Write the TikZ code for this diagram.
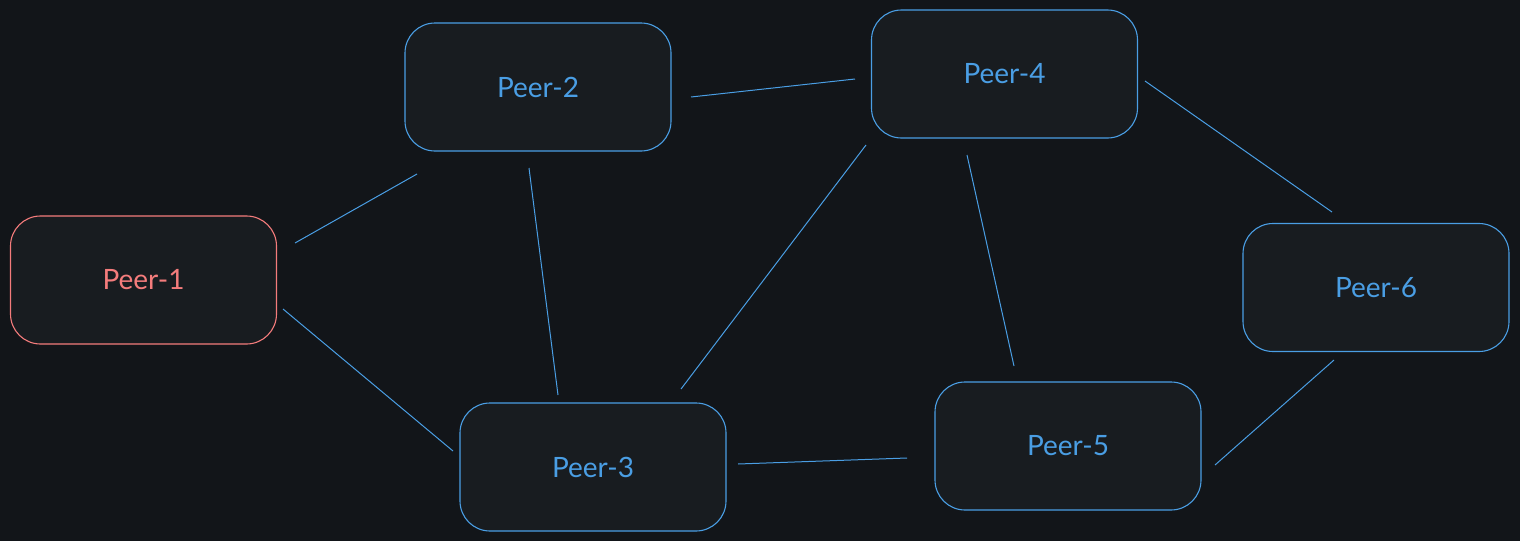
\documentclass[tikz,border=0pt]{standalone}
\usepackage{fontspec}
\setmainfont{Lato}
\definecolor{bg}{HTML}{121519}
\definecolor{boxfill}{HTML}{181C20}
\definecolor{peerblue}{HTML}{4A9EE4}
\definecolor{peerred}{HTML}{F47C7C}
\begin{document}
\begin{tikzpicture}[x=1pt,y=-1pt,
  peer/.style={draw=peerblue, fill=boxfill, rounded corners=30pt, line width=1.1pt,
    minimum width=266pt, minimum height=128pt, inner sep=0pt, text=peerblue,
    font=\fontsize{28}{32}\selectfont},
  peerhot/.style={peer, draw=peerred, text=peerred},
  link/.style={draw=peerblue, line width=1pt}]
\fill[bg] (0,0) rectangle (1520,541);
\useasboundingbox (0,0) rectangle (1520,541);
\node[peerhot] (p1) at (143.5,280) {Peer-1};
\node[peer] (p2) at (538,87) {Peer-2};
\node[peer] (p3) at (593,467) {Peer-3};
\node[peer] (p4) at (1004.5,74) {Peer-4};
\node[peer] (p5) at (1068,446) {Peer-5};
\node[peer] (p6) at (1376,287.5) {Peer-6};
\draw[link] ([shift={(151.5,-37)}]p1.center) -- ([shift={(-121,87)}]p2.center);
\draw[link] ([shift={(139.5,29)}]p1.center) -- ([shift={(-140,-16)}]p3.center);
\draw[link] ([shift={(153,10)}]p2.center) -- ([shift={(-149.5,5)}]p4.center);
\draw[link] ([shift={(-9,81)}]p2.center) -- ([shift={(-35,-72)}]p3.center);
\draw[link] ([shift={(-138.5,71)}]p4.center) -- ([shift={(88,-78)}]p3.center);
\draw[link] ([shift={(-37.5,81)}]p4.center) -- ([shift={(-54,-80)}]p5.center);
\draw[link] ([shift={(140.5,7)}]p4.center) -- ([shift={(-44,-75.5)}]p6.center);
\draw[link] ([shift={(145,-3)}]p3.center) -- ([shift={(-161,12)}]p5.center);
\draw[link] ([shift={(-42,72.5)}]p6.center) -- ([shift={(147,19)}]p5.center);
\end{tikzpicture}
\end{document}
